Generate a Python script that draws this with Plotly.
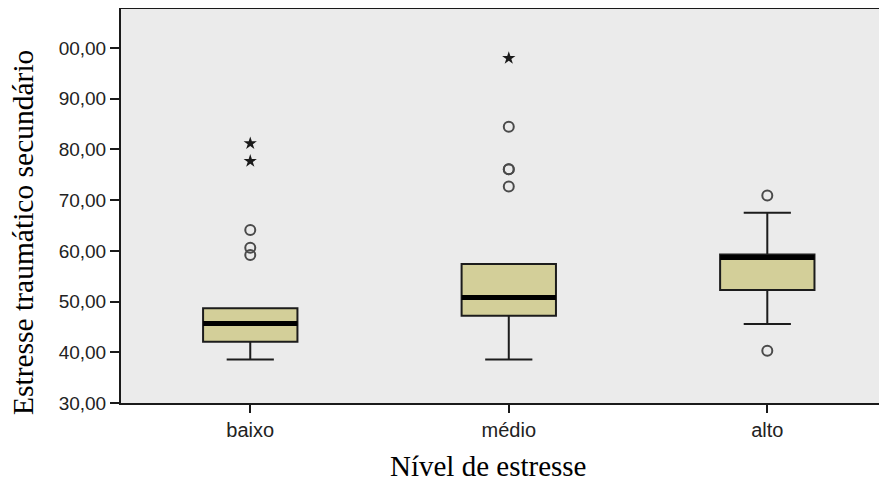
import plotly.graph_objects as go

categories = ["baixo", "médio", "alto"]
q1 = [42.1, 47.2, 52.3]
median = [45.7, 50.8, 58.7]
q3 = [48.7, 57.4, 59.3]
lower_whisker = [38.6, 38.6, 45.6]
upper_whisker = [48.7, 57.4, 67.5]
outliers_circle = [[64.1, 60.6, 59.2], [84.5, 76.1, 76.1, 72.7], [70.9, 40.3]]
outliers_star = [[81.2, 77.7], [98.0], []]

y_ticks = [30, 40, 50, 60, 70, 80, 90, 100]
y_ticktext = ["30,00", "40,00", "50,00", "60,00", "70,00", "80,00", "90,00", "00,00"]

box_width = 0.365
fill = "#D3CF99"
edge = "#1c1c1c"

fig = go.Figure()
idx = list(range(len(categories)))
fig.add_trace(go.Box(
    x=idx, q1=q1, median=median, q3=q3,
    lowerfence=lower_whisker, upperfence=upper_whisker,
    width=box_width, whiskerwidth=0.5,
    fillcolor=fill, line=dict(color=edge, width=2),
    boxpoints=False, hoverinfo="skip", showlegend=False,
))

for i in idx:
    fig.add_shape(type="line", xref="x", yref="y",
                  x0=i - box_width / 2, x1=i + box_width / 2,
                  y0=median[i], y1=median[i],
                  line=dict(color="black", width=5))

cx, cy, sx, sy = [], [], [], []
for i in idx:
    cx += [i] * len(outliers_circle[i]); cy += outliers_circle[i]
    sx += [i] * len(outliers_star[i]); sy += outliers_star[i]

fig.add_trace(go.Scatter(x=cx, y=cy, mode="markers", showlegend=False, hoverinfo="skip",
                         marker=dict(symbol="circle-open", size=10, color="#4a4a4a",
                                     line=dict(width=2, color="#4a4a4a"))))
fig.add_trace(go.Scatter(x=sx, y=sy, mode="markers", showlegend=False, hoverinfo="skip",
                         marker=dict(symbol="star", size=10, color="#1a1a1a",
                                     line=dict(width=0))))

# page body has an 8px margin: plot area placed at x 121..887, y 9..403 in the viewport
fig.update_layout(
    width=879, height=478,
    margin=dict(l=113, r=0, t=1, b=83),
    paper_bgcolor="white", plot_bgcolor="#EBEBEB",
    font=dict(family="Liberation Sans, Arial, sans-serif", size=19, color="#222222"),
    xaxis=dict(range=[-0.5, 2.463], tickvals=idx, ticktext=categories,
               showgrid=False, zeroline=False, showline=True, linecolor="#1a1a1a",
               linewidth=2, mirror=True, ticks="outside", ticklen=8, tickwidth=1.5,
               tickcolor="#1a1a1a", tickfont=dict(size=20)),
    yaxis=dict(range=[30, 107.7], tickvals=y_ticks, ticktext=y_ticktext,
               showgrid=False, zeroline=False, showline=True, linecolor="#1a1a1a",
               linewidth=2, ticks="outside", ticklen=9, tickwidth=1.5,
               tickcolor="#1a1a1a", tickfont=dict(size=19)),
    annotations=[
        dict(text="Nível de estresse", xref="paper", yref="paper",
             x=(488 - 121) / 766, y=-(466 - 403) / 394, xanchor="center", yanchor="middle",
             showarrow=False, font=dict(family="Liberation Serif, Times New Roman, serif",
                                         size=29, color="black")),
        dict(text="Estresse traumático secundário", xref="paper", yref="paper",
             x=-(121 - 23) / 766, y=(403 - 233) / 394, xanchor="center", yanchor="middle",
             textangle=-90, showarrow=False,
             font=dict(family="Liberation Serif, Times New Roman, serif", size=29.5, color="black")),
    ],
)

fig.write_html("out.html")
